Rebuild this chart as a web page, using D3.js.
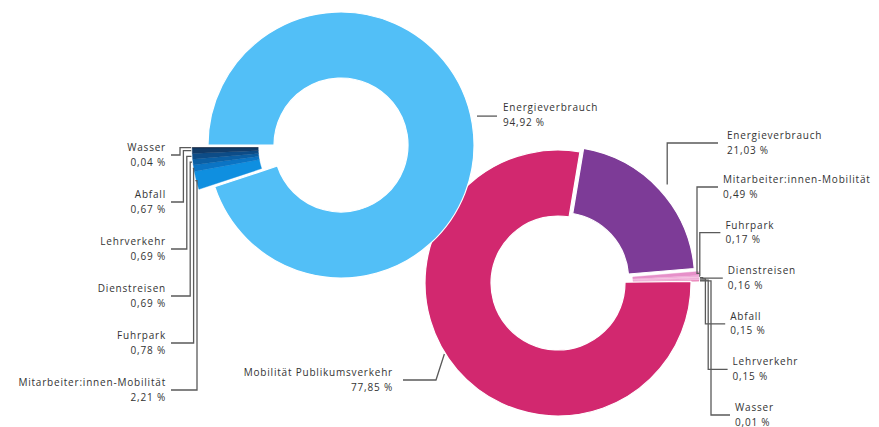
<!DOCTYPE html>
<html>
<head>
<meta charset="utf-8">
<script src="https://cdn.jsdelivr.net/npm/d3@7"></script>
<style>
  html, body { margin: 0; padding: 0; background: #fff; }
  svg { display: block; }
  text { font-family: "Open Sans", "DejaVu Sans", sans-serif; font-size: 10px; letter-spacing: 0.8px; fill: #333; }
</style>
</head>
<body>
<svg id="chart" width="879" height="427"></svg>
<script>
// ---- Data (left donut) ----
const leftCategories = ["Energieverbrauch", "Mitarbeiter:innen-Mobilität", "Fuhrpark", "Dienstreisen", "Lehrverkehr", "Abfall", "Wasser"];
const leftValues = [94.92, 2.21, 0.78, 0.69, 0.69, 0.67, 0.04];
const leftValueLabels = ["94,92 %", "2,21 %", "0,78 %", "0,69 %", "0,69 %", "0,67 %", "0,04 %"];

// ---- Data (right donut) ----
const rightCategories = ["Energieverbrauch", "Mitarbeiter:innen-Mobilität", "Fuhrpark", "Dienstreisen", "Abfall", "Lehrverkehr", "Wasser", "Mobilität Publikumsverkehr"];
const rightValues = [21.03, 0.49, 0.17, 0.16, 0.15, 0.15, 0.01, 77.85];
const rightValueLabels = ["21,03 %", "0,49 %", "0,17 %", "0,16 %", "0,15 %", "0,15 %", "0,01 %", "77,85 %"];

// ---- Styles ----
const leftColors = ["#52BFF7", "#0F8FE0", "#0B74C4", "#0B5FA4", "#0D4C87", "#113B68", "#17273F"];
const rightColors = ["#7D3B97", "#E690C9", "#F0ACD8", "#F4C2E1", "#EDA2D3", "#F3B8DC", "#E0609F", "#D2286F"];

const svg = d3.select("#chart");
svg.append("rect").attr("width", 879).attr("height", 427).attr("fill", "#fff");

const R_IN = 67, R_OUT = 133;
const arc = d3.arc().innerRadius(R_IN).outerRadius(R_OUT);
const dirX = a => Math.sin(a), dirY = a => -Math.cos(a);
const lineGen = d3.line();

function drawDonut(cx, cy, values, colors, start, explode, isSmall) {
  const pie = d3.pie().sort(null).value(d => d).startAngle(start).endAngle(start + 2 * Math.PI);
  const arcs = pie(values);
  const g = svg.append("g").attr("transform", `translate(${cx},${cy})`);
  arcs.forEach((a, i) => {
    const e = explode(i, arcs);
    a.off = e;
    const small = isSmall(i);
    g.append("path")
      .attr("d", arc(a))
      .attr("transform", `translate(${e[0]},${e[1]})`)
      .attr("fill", colors[i])
      .attr("stroke", small ? colors[i] : "#fff")
      .attr("stroke-width", small ? 0.4 : 1.2)
      .attr("stroke-linejoin", "round");
  });
  return arcs;
}
function anchor(cx, cy, a, r) {
  const m = (a.startAngle + a.endAngle) / 2;
  return [cx + a.off[0] + dirX(m) * r, cy + a.off[1] + dirY(m) * r];
}
function connector(points) {
  svg.append("path").attr("d", lineGen(points))
    .attr("fill", "none").attr("stroke", "#5a5a5a").attr("stroke-width", 1.3);
}
function label(x, y, name, val, anchorSide) {
  const t = svg.append("text").attr("x", x).attr("y", y).attr("text-anchor", anchorSide);
  t.append("tspan").attr("x", x).attr("dy", 0).text(name);
  t.append("tspan").attr("x", x).attr("dy", 14.5).text(val);
}

// ---- Right donut (drawn first, left donut overlaps it) ----
const RCX = 558, RCY = 283;
const rStart = 9.5 * Math.PI / 180;
const rightArcs = drawDonut(RCX, RCY, rightValues, rightColors, rStart, (i, arcs) => {
  if (i === 0) {
    const m = (arcs[0].startAngle + arcs[0].endAngle) / 2;
    return [dirX(m) * 5, dirY(m) * 5];
  }
  if (i >= 1 && i <= 6) {
    const m = (arcs[1].startAngle + arcs[6].endAngle) / 2;
    return [dirX(m) * 8, dirY(m) * 8];
  }
  return [0, 0];
}, i => i >= 1 && i <= 6);

// ---- Left donut ----
const LCX = 341, LCY = 145;
const leftArcs = drawDonut(LCX, LCY, leftValues, leftColors, -Math.PI / 2, (i, arcs) => {
  if (i >= 1) {
    const m = (arcs[1].startAngle + arcs[6].endAngle) / 2;
    return [dirX(m) * 16, dirY(m) * 16];
  }
  return [0, 0];
}, i => i >= 1);

// ---- Left labels ----
{
  const p = anchor(LCX, LCY, { startAngle: 78 * Math.PI / 180, endAngle: 78 * Math.PI / 180, off: [0, 0] }, R_OUT + 6);
  connector([p, [497, p[1]]]);
  label(503, p[1] - 5, leftCategories[0], leftValueLabels[0], "start");

  for (let i = 1; i <= 6; i++) {
    const k = 6 - i;               // row index from top
    const yc = 155 + k * 47;
    const a = leftArcs[i];
    const p2 = anchor(LCX, LCY, a, R_OUT + 1);
    const xv = 180 + k * 3.4;
    connector([[171, yc], [xv, yc], [xv, p2[1]], p2]);
    label(166, yc - 4, leftCategories[i], leftValueLabels[i], "end");
  }
}

// ---- Right labels ----
{
  const a0 = rightArcs[0];
  const p0 = anchor(RCX, RCY, { startAngle: 48 * Math.PI / 180, endAngle: 48 * Math.PI / 180, off: a0.off }, R_OUT + 9);
  connector([p0, [p0[0], 143], [718, 143]]);
  label(727, 139, rightCategories[0], rightValueLabels[0], "start");

  for (let i = 1; i <= 6; i++) {
    const k = i - 1;
    const yc = 187 + k * 45.6;
    const a = rightArcs[i];
    const p2 = anchor(RCX, RCY, a, R_OUT + 1);
    const xs = 718 + k * 2.4;
    const xv = 697 + k * 2.8;
    connector([[xs, yc], [xv, yc], [xv, p2[1]], p2]);
    label(xs + 5, yc - 4, rightCategories[i], rightValueLabels[i], "start");
  }

  const pm = anchor(RCX, RCY, { startAngle: 238 * Math.PI / 180, endAngle: 238 * Math.PI / 180, off: [0, 0] }, R_OUT + 1);
  connector([[403, 380], [436, 380], pm]);
  label(393, 376, rightCategories[7], rightValueLabels[7], "end");
}
</script>
</body>
</html>
